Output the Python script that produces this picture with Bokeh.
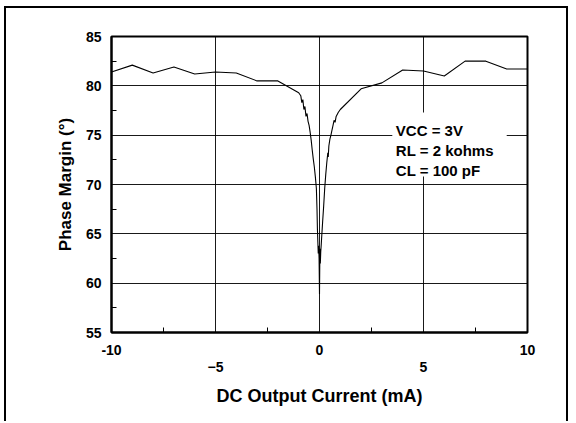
from bokeh.plotting import figure
from bokeh.models import LinearAxis, FixedTicker
from bokeh.core.properties import value
from bokeh.embed import file_html
from bokeh.resources import INLINE

# ---- data ----
current_ma = [-10, -9, -8, -7, -6, -5, -4, -3, -2, -1,
              -0.9, -0.85, -0.8, -0.75, -0.7, -0.65, -0.6, -0.55, -0.5, -0.45,
              -0.4, -0.35, -0.3, -0.25, -0.2, -0.15, -0.12, -0.1, -0.08, -0.06,
              -0.04, -0.02, 0, 0.02, 0.04, 0.06, 0.08, 0.1, 0.15, 0.2,
              0.25, 0.3, 0.35, 0.4, 0.42, 0.45, 0.5, 0.55, 0.6, 0.65,
              0.7, 0.75, 0.8, 0.9, 1, 2, 3, 4, 5, 6, 7, 8, 9, 10]
phase_margin_deg = [81.4, 82.1, 81.3, 81.9, 81.2, 81.4, 81.3, 80.5, 80.5, 79.3,
                    79.0, 78.3, 78.6, 77.6, 77.9, 76.9, 77.2, 76.4, 76.0, 75.3,
                    74.5, 73.5, 72.6, 71.8, 70.8, 69.6, 67.5, 65.5, 64.2, 63.0,
                    63.8, 62.5, 58.9, 63.5, 62.0, 63.2, 63.8, 64.5, 66.2, 67.8,
                    69.6, 71.0, 72.2, 73.2, 72.8, 73.9, 74.6, 75.0, 75.5, 76.0,
                    76.5, 76.3, 76.9, 77.3, 77.6, 79.7, 80.3, 81.6, 81.5, 81.0,
                    82.5, 82.5, 81.7, 81.7]

x_major = [-10, -5, 0, 5, 10]
x_minor = [-7.5, -2.5, 2.5, 7.5]
x_row1_labels = {-10: "-10", -5: "", 0: "0", 5: "", 10: "10"}
x_row2_ticks = [-5, 5]
y_major = [55, 60, 65, 70, 75, 80, 85]
y_minor = [57.5, 62.5, 67.5, 72.5, 77.5, 82.5]
x_grid = [-5, 0, 5]
y_grid = [60, 65, 70, 75, 80]
condition_lines = ["VCC = 3V", "RL = 2 kohms", "CL = 100 pF"]

FONT = "Liberation Sans"

p = figure(width=564, height=415, output_backend="svg", toolbar_location=None,
           x_range=(-10, 10), y_range=(55, 85),
           min_border_left=105, min_border_right=43, min_border_top=28,
           min_border_bottom=91)
# outer frame of the whole picture
p.styles = {"border-left": "2px solid black", "border-top": "2px solid black",
            "border-right": "2px solid black", "margin-left": "4px",
            "margin-top": "6px"}
p.background_fill_color = "white"
p.border_fill_color = "white"
p.outline_line_color = "black"
p.outline_line_width = 2

# grid
p.xgrid.ticker = FixedTicker(ticks=x_grid)
p.ygrid.ticker = FixedTicker(ticks=y_grid)
for g in (p.xgrid, p.ygrid):
    g.grid_line_color = "black"
    g.grid_line_width = 1
    g.grid_line_alpha = 0.9

# x axis, first row of labels
xa = p.xaxis[0]
xa.ticker = FixedTicker(ticks=x_major, minor_ticks=x_minor)
xa.major_label_overrides = x_row1_labels
xa.major_tick_in = 0
xa.major_tick_out = 0
xa.minor_tick_in = 5
xa.minor_tick_out = 0
xa.minor_tick_line_color = "black"
xa.axis_line_color = "black"
xa.axis_line_width = 2
xa.major_label_standoff = 12
xa.major_label_text_font = FONT
xa.major_label_text_font_style = "bold"
xa.major_label_text_font_size = "14px"
xa.major_label_text_color = "black"

# x axis, second (staggered) row of labels + title
xa2 = LinearAxis(ticker=FixedTicker(ticks=x_row2_ticks))
xa2.axis_line_color = None
xa2.major_tick_line_color = None
xa2.minor_tick_line_color = None
xa2.major_tick_in = 0
xa2.major_tick_out = 0
xa2.major_label_standoff = 4
xa2.major_label_text_font = FONT
xa2.major_label_text_font_style = "bold"
xa2.major_label_text_font_size = "14px"
xa2.major_label_text_color = "black"
xa2.axis_label = "DC Output Current (mA)"
xa2.axis_label_standoff = 11
xa2.axis_label_text_font = FONT
xa2.axis_label_text_font_style = "bold"
xa2.axis_label_text_font_size = "18px"
xa2.axis_label_text_color = "black"
p.add_layout(xa2, "below")

# y axis
ya = p.yaxis[0]
ya.ticker = FixedTicker(ticks=y_major, minor_ticks=y_minor)
ya.major_tick_in = 0
ya.major_tick_out = 0
ya.minor_tick_in = 5
ya.minor_tick_out = 0
ya.minor_tick_line_color = "black"
ya.axis_line_color = "black"
ya.axis_line_width = 2
ya.major_label_standoff = 10
ya.major_label_text_font = FONT
ya.major_label_text_font_style = "bold"
ya.major_label_text_font_size = "14px"
ya.major_label_text_color = "black"
ya.axis_label = "Phase Margin (°)"
ya.axis_label_standoff = 8
ya.axis_label_text_font = FONT
ya.axis_label_text_font_style = "bold"
ya.axis_label_text_font_size = "17px"
ya.axis_label_text_color = "black"

# curve
p.line(current_ma, phase_margin_deg, line_color="black", line_width=1.1)

# condition box (white background covering the grid)
p.quad(left=[3.5], right=[9.0], bottom=[70.8], top=[77.3],
       fill_color="white", line_color=None)
p.text(x=[3.67] * 3, y=[75.52, 73.45, 71.42], text=condition_lines,
       text_font=value(FONT), text_font_style="bold", text_font_size="15px",
       text_baseline="alphabetic", text_align="left", text_color="black")

open("out.html", "w").write(file_html(p, INLINE))
